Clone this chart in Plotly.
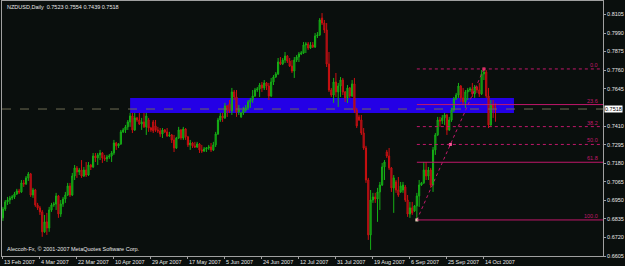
import plotly.graph_objects as go

# ---------------- data (NZDUSD, Daily) ----------------
opens = [
0.6842,0.6897,0.6941,0.6953,0.6966,0.6972,0.6990,0.7009,0.7003,0.7059,
0.7053,0.7090,0.7115,0.6984,0.7015,0.6922,0.6904,0.6879,0.6755,0.6817,
0.6779,0.6891,0.6922,0.6928,0.6978,0.6866,0.6928,0.6959,0.6984,0.7040,
0.6984,0.7102,0.7152,0.7127,0.7139,0.7102,0.7139,0.7108,0.7170,0.7158,
0.7226,0.7214,0.7233,0.7245,0.7214,0.7208,0.7220,0.7226,0.7245,0.7307,
0.7289,0.7301,0.7376,0.7388,0.7407,0.7438,0.7475,0.7388,0.7463,0.7450,
0.7425,0.7438,0.7407,0.7450,0.7400,0.7438,0.7413,0.7388,0.7382,0.7363,
0.7388,0.7376,0.7351,0.7357,0.7326,0.7276,0.7338,0.7388,0.7338,0.7394,
0.7345,0.7295,0.7307,0.7289,0.7282,0.7301,0.7264,0.7257,0.7270,0.7276,
0.7282,0.7264,0.7295,0.7363,0.7450,0.7475,0.7463,0.7537,0.7550,0.7506,
0.7624,0.7593,0.7500,0.7469,0.7494,0.7512,0.7525,0.7562,0.7574,0.7599,
0.7636,0.7643,0.7667,0.7649,0.7680,0.7661,0.7599,0.7686,0.7717,0.7736,
0.7810,0.7798,0.7822,0.7847,0.7816,0.7785,0.7754,0.7822,0.7841,0.7860,
0.7866,0.7916,0.7922,0.7897,0.7916,0.7903,0.7972,0.7978,0.8083,0.8052,
0.8009,0.7798,0.7636,0.7605,0.7686,0.7624,0.7661,0.7698,0.7624,0.7587,
0.7649,0.7599,0.7674,0.7512,0.7469,0.7450,0.7369,0.7276,0.7077,0.6736,
0.6953,0.6972,0.6959,0.7003,0.7046,0.7158,0.7251,0.7226,0.7152,0.7028,
0.7065,0.7015,0.7003,0.7015,0.7034,0.6953,0.6866,0.6904,0.6885,0.6916,
0.6978,0.7046,0.7059,0.7139,0.7102,0.7139,0.7046,0.7264,0.7357,0.7450,
0.7444,0.7463,0.7481,0.7388,0.7450,0.7512,0.7581,0.7605,0.7661,0.7587,
0.7562,0.7624,0.7636,0.7643,0.7612,0.7655,0.7636,0.7612,0.7736,0.7748,
0.7599,0.7419,0.7543,0.7523]
highs = [
0.6910,0.6953,0.6972,0.6978,0.6984,0.7003,0.7022,0.7022,0.7077,0.7077,
0.7102,0.7127,0.7121,0.7028,0.7022,0.6935,0.6916,0.6891,0.6860,0.6873,
0.6910,0.6935,0.6941,0.6997,0.6984,0.6953,0.6972,0.7003,0.7059,0.7059,
0.7121,0.7170,0.7164,0.7152,0.7201,0.7158,0.7189,0.7189,0.7177,0.7245,
0.7245,0.7245,0.7264,0.7251,0.7233,0.7233,0.7239,0.7257,0.7326,0.7314,
0.7307,0.7388,0.7400,0.7419,0.7450,0.7494,0.7494,0.7494,0.7469,0.7494,
0.7463,0.7494,0.7494,0.7463,0.7407,0.7450,0.7450,0.7407,0.7400,0.7400,
0.7394,0.7400,0.7376,0.7363,0.7357,0.7345,0.7407,0.7394,0.7407,0.7400,
0.7351,0.7326,0.7314,0.7314,0.7314,0.7307,0.7295,0.7282,0.7282,0.7295,
0.7307,0.7314,0.7376,0.7463,0.7494,0.7494,0.7556,0.7543,0.7574,0.7649,
0.7636,0.7636,0.7543,0.7500,0.7531,0.7543,0.7574,0.7587,0.7636,0.7649,
0.7655,0.7680,0.7686,0.7698,0.7686,0.7680,0.7711,0.7729,0.7748,0.7835,
0.7841,0.7835,0.7872,0.7853,0.7835,0.7822,0.7841,0.7853,0.7872,0.7878,
0.7934,0.7934,0.7934,0.7934,0.7934,0.7990,0.7996,0.8083,0.8114,0.8071,
0.8052,0.7872,0.7649,0.7711,0.7742,0.7680,0.7717,0.7711,0.7630,0.7667,
0.7655,0.7698,0.7711,0.7525,0.7481,0.7481,0.7400,0.7289,0.7090,0.7015,
0.6997,0.6997,0.7028,0.7065,0.7183,0.7201,0.7264,0.7276,0.7158,0.7108,
0.7077,0.7096,0.7065,0.7065,0.7046,0.6984,0.6941,0.6941,0.6922,0.6997,
0.7077,0.7065,0.7189,0.7189,0.7158,0.7152,0.7282,0.7369,0.7469,0.7469,
0.7481,0.7494,0.7488,0.7469,0.7525,0.7593,0.7618,0.7680,0.7667,0.7649,
0.7636,0.7649,0.7655,0.7680,0.7667,0.7661,0.7680,0.7760,0.7767,0.7760,
0.7649,0.7574,0.7574,0.7554]
lows = [
0.6823,0.6885,0.6922,0.6928,0.6953,0.6959,0.6984,0.6990,0.6997,0.7034,
0.7046,0.7071,0.6972,0.6966,0.6910,0.6891,0.6860,0.6724,0.6749,0.6736,
0.6755,0.6879,0.6910,0.6891,0.6842,0.6848,0.6910,0.6935,0.6978,0.6972,
0.6978,0.7077,0.7090,0.7108,0.7090,0.7096,0.7096,0.7102,0.7139,0.7152,
0.7189,0.7170,0.7201,0.7183,0.7195,0.7189,0.7208,0.7189,0.7233,0.7264,
0.7276,0.7295,0.7369,0.7369,0.7388,0.7407,0.7369,0.7382,0.7438,0.7419,
0.7388,0.7400,0.7357,0.7376,0.7376,0.7369,0.7376,0.7369,0.7345,0.7338,
0.7369,0.7345,0.7345,0.7307,0.7251,0.7270,0.7332,0.7326,0.7326,0.7326,
0.7282,0.7264,0.7276,0.7276,0.7276,0.7245,0.7245,0.7251,0.7251,0.7264,
0.7251,0.7257,0.7282,0.7357,0.7438,0.7438,0.7456,0.7469,0.7494,0.7481,
0.7574,0.7469,0.7481,0.7463,0.7481,0.7500,0.7512,0.7525,0.7556,0.7593,
0.7624,0.7593,0.7624,0.7636,0.7636,0.7574,0.7593,0.7667,0.7711,0.7729,
0.7791,0.7791,0.7804,0.7804,0.7779,0.7742,0.7711,0.7810,0.7810,0.7853,
0.7860,0.7866,0.7885,0.7891,0.7897,0.7897,0.7959,0.7972,0.8040,0.7990,
0.7779,0.7624,0.7593,0.7556,0.7593,0.7531,0.7593,0.7605,0.7562,0.7556,
0.7587,0.7593,0.7494,0.7400,0.7444,0.7357,0.7264,0.7059,0.6705,0.6643,
0.6935,0.6935,0.6817,0.6891,0.7040,0.7077,0.7214,0.7139,0.7003,0.6873,
0.6997,0.6972,0.6997,0.6997,0.6941,0.6848,0.6842,0.6860,0.6879,0.6829,
0.6910,0.7040,0.7053,0.7077,0.7077,0.7028,0.7003,0.7233,0.7351,0.7407,
0.7425,0.7419,0.7357,0.7382,0.7438,0.7500,0.7574,0.7587,0.7562,0.7543,
0.7525,0.7574,0.7624,0.7593,0.7587,0.7618,0.7593,0.7605,0.7698,0.7587,
0.7400,0.7407,0.7463,0.7439]
closes = [
0.6897,0.6941,0.6953,0.6966,0.6972,0.6990,0.7009,0.7003,0.7059,0.7053,
0.7090,0.7115,0.6984,0.7015,0.6922,0.6904,0.6879,0.6755,0.6817,0.6779,
0.6891,0.6922,0.6928,0.6978,0.6866,0.6928,0.6959,0.6984,0.7040,0.6984,
0.7102,0.7152,0.7127,0.7139,0.7102,0.7139,0.7108,0.7170,0.7158,0.7226,
0.7214,0.7233,0.7245,0.7214,0.7208,0.7220,0.7226,0.7245,0.7307,0.7289,
0.7301,0.7376,0.7388,0.7407,0.7438,0.7475,0.7388,0.7463,0.7450,0.7425,
0.7438,0.7407,0.7475,0.7400,0.7388,0.7382,0.7388,0.7382,0.7363,0.7388,
0.7376,0.7351,0.7357,0.7326,0.7276,0.7338,0.7388,0.7338,0.7394,0.7345,
0.7295,0.7307,0.7289,0.7282,0.7301,0.7264,0.7257,0.7270,0.7276,0.7282,
0.7264,0.7295,0.7363,0.7450,0.7475,0.7463,0.7537,0.7512,0.7506,0.7624,
0.7593,0.7500,0.7512,0.7494,0.7512,0.7525,0.7562,0.7574,0.7599,0.7636,
0.7643,0.7667,0.7649,0.7680,0.7661,0.7599,0.7686,0.7717,0.7736,0.7810,
0.7798,0.7822,0.7847,0.7816,0.7785,0.7754,0.7822,0.7841,0.7860,0.7866,
0.7916,0.7922,0.7897,0.7916,0.7903,0.7972,0.7978,0.8071,0.8052,0.8009,
0.7798,0.7636,0.7605,0.7686,0.7624,0.7661,0.7698,0.7624,0.7587,0.7649,
0.7599,0.7674,0.7512,0.7413,0.7450,0.7369,0.7276,0.7077,0.6736,0.6953,
0.6972,0.6959,0.7003,0.7046,0.7158,0.7189,0.7226,0.7152,0.7028,0.7090,
0.7015,0.6984,0.7040,0.7046,0.6953,0.6866,0.6904,0.6873,0.6916,0.6978,
0.7046,0.7059,0.7139,0.7102,0.7139,0.7046,0.7264,0.7357,0.7450,0.7444,
0.7463,0.7481,0.7388,0.7450,0.7512,0.7581,0.7605,0.7661,0.7587,0.7562,
0.7624,0.7636,0.7643,0.7612,0.7655,0.7636,0.7612,0.7736,0.7748,0.7599,
0.7419,0.7543,0.7525,0.7518]
bar_index = list(range(len(closes)))

date_tick_pos = [0, 16, 32, 48, 64, 80, 96, 112, 128, 144, 160, 176, 192, 208]
date_tick_labels = ["13 Feb 2007", "4 Mar 2007", "22 Mar 2007", "10 Apr 2007",
                    "29 Apr 2007", "17 May 2007", "5 Jun 2007", "24 Jun 2007",
                    "12 Jul 2007", "31 Jul 2007", "19 Aug 2007", "6 Sep 2007",
                    "25 Sep 2007", "14 Oct 2007"]
price_ticks = [0.6605, 0.6720, 0.6835, 0.6950, 0.7065, 0.7180, 0.7295,
               0.7410, 0.7645, 0.7760, 0.7875, 0.7990, 0.8105]
price_tick_labels = ["0.6605", "0.6720", "0.6835", "0.6950", "0.7065", "0.7180",
                     "0.7295", "0.7410", "0.7645", "0.7760", "0.7875", "0.7990", "0.8105"]

# Fibonacci retracement (anchors: low bar / high bar)
fib_low_bar, fib_low = 179, 0.6829
fib_high_bar, fib_high = 208, 0.7767
fib_levels = [0.0, 23.6, 38.2, 50.0, 61.8, 100.0]
fib_labels = ["0.0", "23.6", "38.2", "50.0", "61.8", "100.0"]
fib_dash = ["dot", "solid", "dot", "dot", "solid", "solid"]

# supply/demand zone rectangle
zone_start, zone_end = 55, 221
zone_low, zone_high = 0.7494, 0.7587

# -------------------------------------------------------
BG = "#0a0f0d"
FIB = "#c0186a"
FONT = "Liberation Sans"
FS = 5.5
X0, X1 = -0.4, 259.5
Y0, Y1 = 0.6605, 0.8189

fig = go.Figure()

fig.add_shape(type="rect", xref="x", yref="y", x0=zone_start, x1=zone_end,
              y0=zone_low, y1=zone_high, fillcolor="#2400e6", line_width=0,
              layer="below")

fig.add_trace(go.Candlestick(
    x=bar_index, open=opens, high=highs, low=lows, close=closes,
    increasing=dict(line=dict(color="#16b016", width=1), fillcolor="#0c6e0c"),
    decreasing=dict(line=dict(color="#cc1010", width=1), fillcolor="#6e0a28"),
    whiskerwidth=0, showlegend=False, hoverinfo="skip"))

# bid line
fig.add_shape(type="line", xref="paper", yref="y", x0=0, x1=1,
              y0=closes[-1], y1=closes[-1],
              line=dict(color="#6e6c54", width=1, dash="dash"))

# fibonacci levels
rng = fib_high - fib_low
for lvl, lab, dsh in zip(fib_levels, fib_labels, fib_dash):
    p = fib_high - rng * lvl / 100.0
    fig.add_shape(type="line", xref="x", yref="y", x0=fib_low_bar, x1=X1,
                  y0=p, y1=p, line=dict(color=FIB, width=1, dash=dsh))
    fig.add_annotation(xref="paper", yref="y", x=1, y=p, text=lab,
                       showarrow=False, xanchor="right", yanchor="bottom",
                       xshift=-3, yshift=-1,
                       font=dict(family=FONT, size=FS, color=FIB))

# fib trend line with anchor markers
fig.add_trace(go.Scatter(x=[fib_low_bar, fib_high_bar], y=[fib_low, fib_high],
                         mode="lines", line=dict(color=FIB, width=1, dash="dot"),
                         showlegend=False, hoverinfo="skip"))
fig.add_trace(go.Scatter(
    x=[fib_low_bar, (fib_low_bar + fib_high_bar) / 2, fib_high_bar],
    y=[fib_low, (fib_low + fib_high) / 2, fib_high],
    mode="markers", marker=dict(symbol="square", size=3,
                                color=["#e8d8b8", "#ff5a9a", "#ff4070"]),
    showlegend=False, hoverinfo="skip"))

# texts
fig.add_annotation(xref="paper", yref="paper", x=0, y=1, xanchor="left",
                   yanchor="top", xshift=3, yshift=-1, showarrow=False,
                   text="NZDUSD,Daily  0.7523 0.7554 0.7439 0.7518",
                   font=dict(family=FONT, size=FS, color="#e8e8e8"))
fig.add_annotation(xref="paper", yref="paper", x=0, y=0, xanchor="left",
                   yanchor="bottom", xshift=3, yshift=2, showarrow=False,
                   text="Aleccoh-Fx, © 2001-2007 MetaQuotes Software Corp.",
                   font=dict(family=FONT, size=FS, color="#e8e8e8"))
fig.add_annotation(xref="paper", yref="y", x=1, y=closes[-1], xanchor="left",
                   yanchor="middle", xshift=1, showarrow=False,
                   text="0.7518", bgcolor="#ffffff", borderpad=0,
                   font=dict(family=FONT, size=FS, color="#000000"))

fig.update_layout(
    width=625, height=266,
    margin=dict(l=2, r=22, t=1, b=10, autoexpand=False),
    paper_bgcolor=BG, plot_bgcolor=BG,
    showlegend=False,
    font=dict(family=FONT, size=FS, color="#e8e8e8"),
    xaxis=dict(range=[X0, X1], rangeslider=dict(visible=False),
               showgrid=False, zeroline=False, automargin=False,
               tickmode="array", tickvals=date_tick_pos, ticktext=date_tick_labels,
               tickangle=0,
               ticks="outside", ticklen=2, tickcolor="#a0a0a0",
               ticklabelposition="outside right",
               tickfont=dict(family=FONT, size=FS, color="#e8e8e8"),
               showline=True, linecolor="#a0a0a0", linewidth=1, mirror=True),
    yaxis=dict(range=[Y0, Y1], side="right", showgrid=False, zeroline=False,
               automargin=False,
               tickmode="array", tickvals=price_ticks, ticktext=price_tick_labels,
               ticks="outside", ticklen=2, tickcolor="#a0a0a0",
               tickfont=dict(family=FONT, size=FS, color="#e8e8e8"),
               showline=True, linecolor="#a0a0a0", linewidth=1, mirror=True),
)

fig.write_html("out.html")
